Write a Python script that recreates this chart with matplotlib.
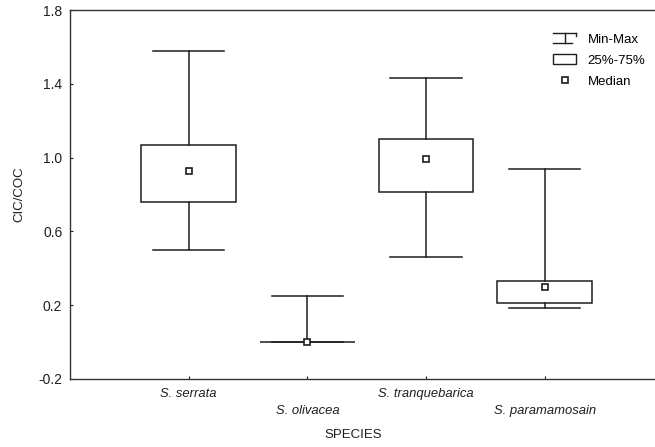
import matplotlib
matplotlib.use("Agg")
import matplotlib.pyplot as plt
from matplotlib.legend_handler import HandlerBase
from matplotlib.lines import Line2D
from matplotlib.patches import Rectangle

plt.rcParams['font.family'] = ['Liberation Sans', 'DejaVu Sans']

species = ["S. serrata", "S. olivacea", "S. tranquebarica", "S. paramamosain"]
minimum = [0.50, 0.00, 0.46, 0.186]
q25 = [0.76, 0.00, 0.813, 0.214]
median = [0.93, 0.00, 0.99, 0.297]
q75 = [1.07, 0.00, 1.10, 0.331]
maximum = [1.58, 0.25, 1.43, 0.938]
yticks = [-0.2, 0.2, 0.6, 1.0, 1.4, 1.8]

ink = "#1e1e1e"
lw = 1.1

fig = plt.figure(figsize=(6.55, 4.47), dpi=100)
ax = fig.add_axes([70 / 655, 68 / 447, 585 / 655, 369 / 447])

positions = list(range(1, len(species) + 1))
stats = [dict(whislo=lo, q1=a, med=m, q3=b, whishi=hi, label=s)
         for s, lo, a, m, b, hi in zip(species, minimum, q25, median, q75, maximum)]

ax.bxp(stats, positions=positions, widths=0.8, capwidths=0.6,
       showfliers=False, patch_artist=True,
       boxprops=dict(facecolor="white", edgecolor=ink, linewidth=lw),
       whiskerprops=dict(color=ink, linewidth=lw),
       capprops=dict(color=ink, linewidth=lw),
       medianprops=dict(linewidth=0))
ax.plot(positions, median, linestyle="none", marker="s", markersize=5,
        markerfacecolor="white", markeredgecolor=ink, markeredgewidth=1.2,
        zorder=5)

ax.set_xlim(0, 4.93)
ax.set_ylim(-0.2, 1.8)
ax.set_yticks(yticks)
ax.set_yticklabels([f"{v:.1f}" for v in yticks])
ax.set_xticks(positions)
ax.set_xticklabels(species, fontstyle="italic")
for lab in ax.get_xticklabels()[1::2]:
    lab.set_y(-0.046)

ax.tick_params(axis="both", direction="in", length=2.5, width=0.8,
               colors=ink)
ax.tick_params(axis="x", pad=6.5, labelsize=9.4)
ax.tick_params(axis="y", pad=5.5, labelsize=10)
for side in ["left", "bottom", "top"]:
    ax.spines[side].set_color("#333333")
    ax.spines[side].set_linewidth(1.0)
ax.spines["right"].set_visible(False)

ax.set_ylabel("CIC/COC", fontsize=9.5, color=ink)
ax.yaxis.set_label_coords(-0.077, 0.5)
fig.text(353 / 655, 1 - 435 / 447, "SPECIES", ha="center", va="center",
         fontsize=9.5, color=ink)


class WhiskerHandler(HandlerBase):
    def create_artists(self, legend, orig_handle, xdescent, ydescent,
                       width, height, fontsize, trans):
        cx = width / 2 - xdescent
        y0 = -ydescent
        y1 = height - ydescent
        arts = [
            Line2D([0, width], [y1, y1]),
            Line2D([cx, cx], [y0, y1]),
            Line2D([0, width * 0.8], [y0, y0]),
            Line2D([width, width], [y1, y1 - height * 0.25]),
        ]
        for a in arts:
            a.set_color(ink)
            a.set_linewidth(1.0)
            a.set_transform(trans)
        return arts


whisker_handle = Line2D([], [])
box_handle = Rectangle((0, 0), 1, 1, facecolor="white", edgecolor=ink, linewidth=1.0)
median_handle = Line2D([], [], linestyle="none", marker="s", markersize=5,
                       markerfacecolor="white", markeredgecolor=ink,
                       markeredgewidth=1.2)
ax.legend([whisker_handle, box_handle, median_handle],
          ["Min-Max", "25%-75%", "Median"],
          handler_map={whisker_handle: WhiskerHandler()},
          loc="upper right", bbox_to_anchor=(1.004, 0.97), frameon=False,
          fontsize=9.5, handlelength=1.8, handleheight=0.85, handletextpad=0.85,
          labelspacing=0.62)

fig.savefig("out.png", dpi=100)
